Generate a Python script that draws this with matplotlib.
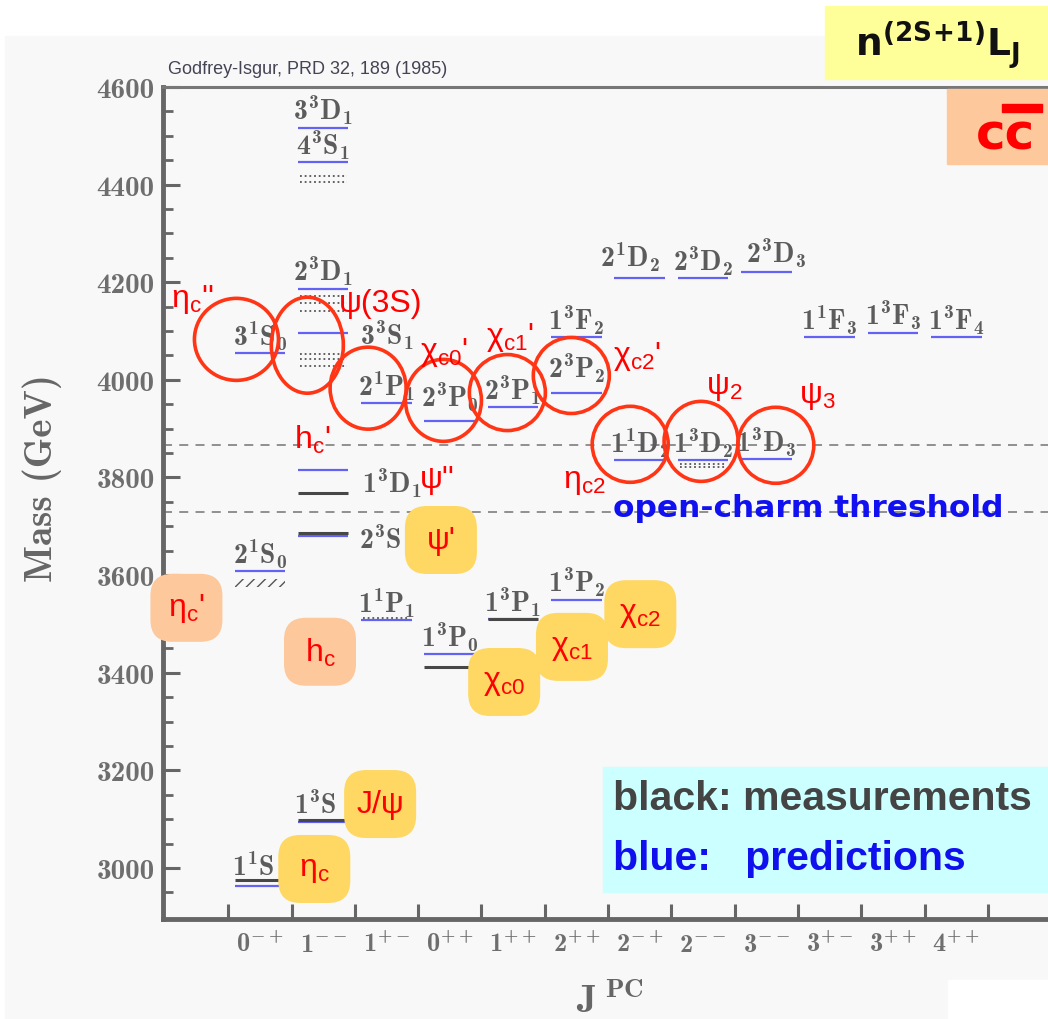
import numpy as np
import matplotlib
matplotlib.use('Agg')
import matplotlib.pyplot as plt
from matplotlib.patches import Ellipse, FancyBboxPatch, Rectangle

# bold Computer Modern for the spectroscopic labels
plt.rcParams['mathtext.bf'] = 'cmb10'
plt.rcParams['mathtext.rm'] = 'cmb10'

# J^PC columns
jpc = [r'0^{-+}', r'1^{--}', r'1^{+-}', r'0^{++}', r'1^{++}', r'2^{++}',
       r'2^{-+}', r'2^{--}', r'3^{--}', r'3^{+-}', r'3^{++}', r'4^{++}']

# Godfrey-Isgur predictions (MeV)
gi_name = ['1^1S', '2^1S_0', '3^1S_0',
           '1^3S', '2^3S', '1^3D_1', '3^3S_1', '2^3D_1', '4^3S_1', '3^3D_1',
           '1^1P_1', '2^1P_1', '1^3P_0', '2^3P_0', '1^3P_1', '2^3P_1',
           '1^3P_2', '2^3P_2', '1^3F_2', '1^1D_2', '2^1D_2', '1^3D_2', '2^3D_2',
           '1^3D_3', '2^3D_3', '1^1F_3', '1^3F_3', '1^3F_4']
gi_col = [0, 0, 0, 1, 1, 1, 1, 1, 1, 1, 2, 2, 3, 3, 4, 4, 5, 5, 5,
          6, 6, 7, 7, 8, 8, 9, 10, 11]
gi_mass = [2963, 3608, 4055, 3094, 3681, 3815, 4097, 4187, 4447, 4517,
           3508, 3952, 3438, 3915, 3510, 3944, 3550, 3974, 4087,
           3835, 4208, 3835, 4208, 3837, 4220, 4087, 4097, 4087]

# measured states
exp_col = [0, 1, 1, 1, 3, 4]
exp_mass = [2976, 3099, 3686, 3768, 3412, 3510]

# broad / unconfirmed states (dotted)
dot_col = [1, 1, 1, 1, 1, 1, 1, 1, 7, 7, 2]
dot_mass = [4052, 4042, 4028, 4172, 4158, 4142, 4417, 4406, 3827, 3821, 3512]

# old eta_c(2S) measurement (hatched)
hatch_col = [0]
hatch_mass = [3583]

# DD and DD* thresholds
thresholds = [3866, 3729]

# circles around the predicted states near threshold
ring_x = [-0.37, 0.75, 1.71, 2.90, 3.91, 4.92, 5.85, 6.97, 8.15]
ring_m = [4083, 4071, 3983, 3958, 3974, 4009, 3868, 3874, 3866]

# established charmonia
box_name = [r'$\mathregular{η_{c}}$', 'J/ψ', "ψ'", r"$\mathregular{η_{c}}$'",
            r'$\mathregular{h_{c}}$', r'$\mathregular{χ_{c0}}$',
            r'$\mathregular{χ_{c1}}$', r'$\mathregular{χ_{c2}}$']
box_x = [0.86, 1.90, 2.86, -1.16, 0.95, 3.86, 4.93, 6.01]
box_m = [2998, 3131, 3672, 3533, 3443, 3381, 3453, 3520]
box_kind = ['y', 'y', 'y', 'p', 'p', 'y', 'y', 'y']

# names of the missing states
red_name = [r"$\mathregular{η_{c}}$''", 'ψ(3S)', r"$\mathregular{h_{c}}$'", "ψ''",
            r"$\mathregular{χ_{c0}}$'", r"$\mathregular{χ_{c1}}$'",
            r"$\mathregular{χ_{c2}}$'", r'$\mathregular{ψ_{2}}$',
            r'$\mathregular{ψ_{3}}$', r'$\mathregular{η_{c2}}$']
red_x = [-1.07, 1.90, 0.82, 2.80, 2.90, 3.95, 5.96, 7.34, 8.80, 5.12]
red_m = [4166, 4158, 3879, 3797, 4059, 4088, 4049, 3986, 3969, 3793]

W, H = 1048, 1020
fig = plt.figure(figsize=(W / 100, H / 100), dpi=100, facecolor='white')


def fx(px):
    return px / W


def fy(py):
    return 1 - py / H


# page background
fig.patches.append(Rectangle((fx(5), 0), 1, fy(37), transform=fig.transFigure,
                             color='#f8f8f8', zorder=-10))
fig.patches.append(Rectangle((fx(948), 0), 1, fy(981), transform=fig.transFigure,
                             color='white', zorder=-9))

ax = fig.add_axes([fx(163), fy(920), 1 - fx(163), (920 - 88) / H])
ax.set_facecolor('none')
ax.set_xlim(-1.53, 12.45)
ax.set_ylim(2895.5, 4600)

# pixels per data unit
sx = ax.bbox.width / (12.45 + 1.53)
sy = ax.bbox.height / (4600 - 2895.5)

grey = '#666666'
for s in ['left', 'bottom']:
    ax.spines[s].set_linewidth(3.5)
    ax.spines[s].set_color(grey)
ax.spines['top'].set_linewidth(2.2)
ax.spines['top'].set_color('#777777')
ax.spines['right'].set_visible(False)

ax.set_yticks(np.arange(3000, 4601, 200))
ax.set_yticks(np.arange(2950, 4601, 50), minor=True)
ax.set_yticklabels([str(v) for v in range(3000, 4601, 200)],
                   fontfamily='cmb10', fontsize=21, color='#6e6e6e')
ax.tick_params(axis='y', which='major', direction='in', length=12, width=2.2,
               color=grey, pad=6)
ax.tick_params(axis='y', which='minor', direction='in', length=7, width=2,
               color=grey)

ax.set_xticks(np.arange(-0.5, 12, 1.0))
ax.set_xticklabels([])
ax.set_xticks(np.arange(12), minor=True)
ax.set_xticklabels([r'$\mathbf{%s}$' % j for j in jpc], minor=True,
                   math_fontfamily='custom', fontsize=19, color='#6e6e6e')
ax.tick_params(axis='x', which='major', direction='in', length=11, width=2.2,
               color=grey)
ax.tick_params(axis='x', which='minor', length=0, pad=9)

# thresholds
for m in thresholds:
    ax.axhline(m, color='#888888', lw=1.3, ls=(0, (5, 4)), zorder=1)

hw = 0.4
gi_col_a = np.array(gi_col)
ax.hlines(gi_mass, gi_col_a - hw, gi_col_a + hw, color='#6262f5', lw=1.6, zorder=2)
exp_col_a = np.array(exp_col)
ax.hlines(exp_mass, exp_col_a - hw, exp_col_a + hw, color='#474747', lw=2.2,
          zorder=2.2)
dot_col_a = np.array(dot_col)
ax.hlines(dot_mass, dot_col_a - hw + 0.03, dot_col_a + hw - 0.03, color='#555555',
          lw=1.3, ls=(0, (1, 1.6)), zorder=2.3)
for c, m in zip(hatch_col, hatch_mass):
    ax.add_patch(Rectangle((c - hw, m - 4 / sy), 2 * hw, 8 / sy, fill=False,
                           hatch='///', lw=0, edgecolor='#555555', zorder=2))

# level labels: (shift in columns, baseline offset in px, alignment)
label_pos = {
    '1^1S': (-0.1, 11, 'center'),
    '1^3S': (-0.12, 9, 'center'),
    '2^3S': (0.57, -12, 'left'),
    '1^3D_1': (0.62, -22, 'left'),
    '3^3S_1': (0.58, -12, 'left'),
    '2^3P_0': (0, 15, 'center'),
    '2^3P_2': (0, 15, 'center'),
    '2^1D_2': (-0.15, 12, 'center'),
    '2^3D_3': (0.15, 10, 'center'),
}
for name, c, m in zip(gi_name, gi_col, gi_mass):
    dx, dy, ha = label_pos.get(name, (0, 8, 'center'))
    ax.text(c + dx, m + dy / sy, r'$\mathbf{%s}$' % name, math_fontfamily='custom',
            fontsize=20, color='#5c5c5c', ha=ha, va='baseline', zorder=3)

ax.text(5.58, 3721, 'open-charm threshold', fontfamily='DejaVu Sans',
        fontweight='bold', fontsize=22.5, color='#1010f0', va='baseline', zorder=3)

# boxes for the established states
bw, bh, br = 72, 68, 22
colors = {'y': '#fed862', 'p': '#fcc89c'}
for name, x, m, k in zip(box_name, box_x, box_m, box_kind):
    w, h = bw / sx, bh / sy
    ax.add_patch(FancyBboxPatch((x - w / 2, m - h / 2), w, h,
                                boxstyle='round,pad=0,rounding_size=%f' % (br / sx),
                                mutation_aspect=sx / sy, fc=colors[k], ec='none',
                                zorder=4, clip_on=False))
    ax.text(x, m, name, fontfamily=['Liberation Sans', 'DejaVu Sans'], fontsize=23,
            color='#ff0000', ha='center', va='center', zorder=6)

ring_rx = [42, 36, 38, 38, 38, 38, 38, 37, 38]
ring_ry = [41, 48, 41, 41, 38, 38, 38, 40, 38]
for x, m, rx, ry in zip(ring_x, ring_m, ring_rx, ring_ry):
    ax.add_patch(Ellipse((x, m), 2 * rx / sx, 2 * ry / sy, fill=False,
                         ec='#ff3515', lw=2.6, zorder=5))

for name, x, m in zip(red_name, red_x, red_m):
    ax.text(x, m, name, fontfamily=['Liberation Sans', 'DejaVu Sans'], fontsize=23,
            color='#ff0000', ha='center', va='center', zorder=6)

# axis titles
fig.text(fx(42), fy(478), 'Mass (GeV)', rotation=90, fontfamily='cmb10',
         fontsize=28, color=grey, ha='center', va='center')
fig.text(fx(610), fy(1013), r'$\mathbf{J}^{\mathbf{\ PC}}$', math_fontfamily='custom',
         fontsize=28, color=grey, ha='center', va='baseline')
fig.text(fx(168), fy(70), 'Godfrey-Isgur, PRD 32, 189 (1985)',
         fontfamily='Liberation Sans', fontsize=13, color='#444455', va='center')

# notation and legend boxes
fig.patches.append(Rectangle((fx(825), fy(80)), 1, fy(7) - fy(80),
                             transform=fig.transFigure, color='#ffff99', zorder=1))
fig.text(fx(937), fy(45), r'$\mathbf{n^{(2S\!+\!1)}L_J}$', math_fontfamily='dejavusans',
         fontsize=27, color='#111111', ha='center', va='center', zorder=2)
fig.patches.append(Rectangle((fx(947), fy(165)), 1, fy(90) - fy(165),
                             transform=fig.transFigure, color='#fcc89c', zorder=1))
fig.text(fx(1006), fy(150), 'cc', fontfamily='DejaVu Sans', fontweight='bold',
         fontsize=36, color='#ff0000', ha='center', va='baseline', zorder=2)
fig.patches.append(Rectangle((fx(1002), fy(113)), fx(40), fy(105) - fy(113),
                             transform=fig.transFigure, color='#ff0000', zorder=2))

fig.patches.append(Rectangle((fx(603), fy(893)), 1, fy(768) - fy(893),
                             transform=fig.transFigure, color='#ccffff', zorder=1))
fig.text(fx(613), fy(810), 'black: measurements', fontfamily='Liberation Sans',
         fontweight='bold', fontsize=29.5, color='#444444', zorder=2)
fig.text(fx(613), fy(870), 'blue:   predictions', fontfamily='Liberation Sans',
         fontweight='bold', fontsize=29.5, color='#1010ee', zorder=2)

fig.savefig('out.png', dpi=100, facecolor=fig.get_facecolor())
